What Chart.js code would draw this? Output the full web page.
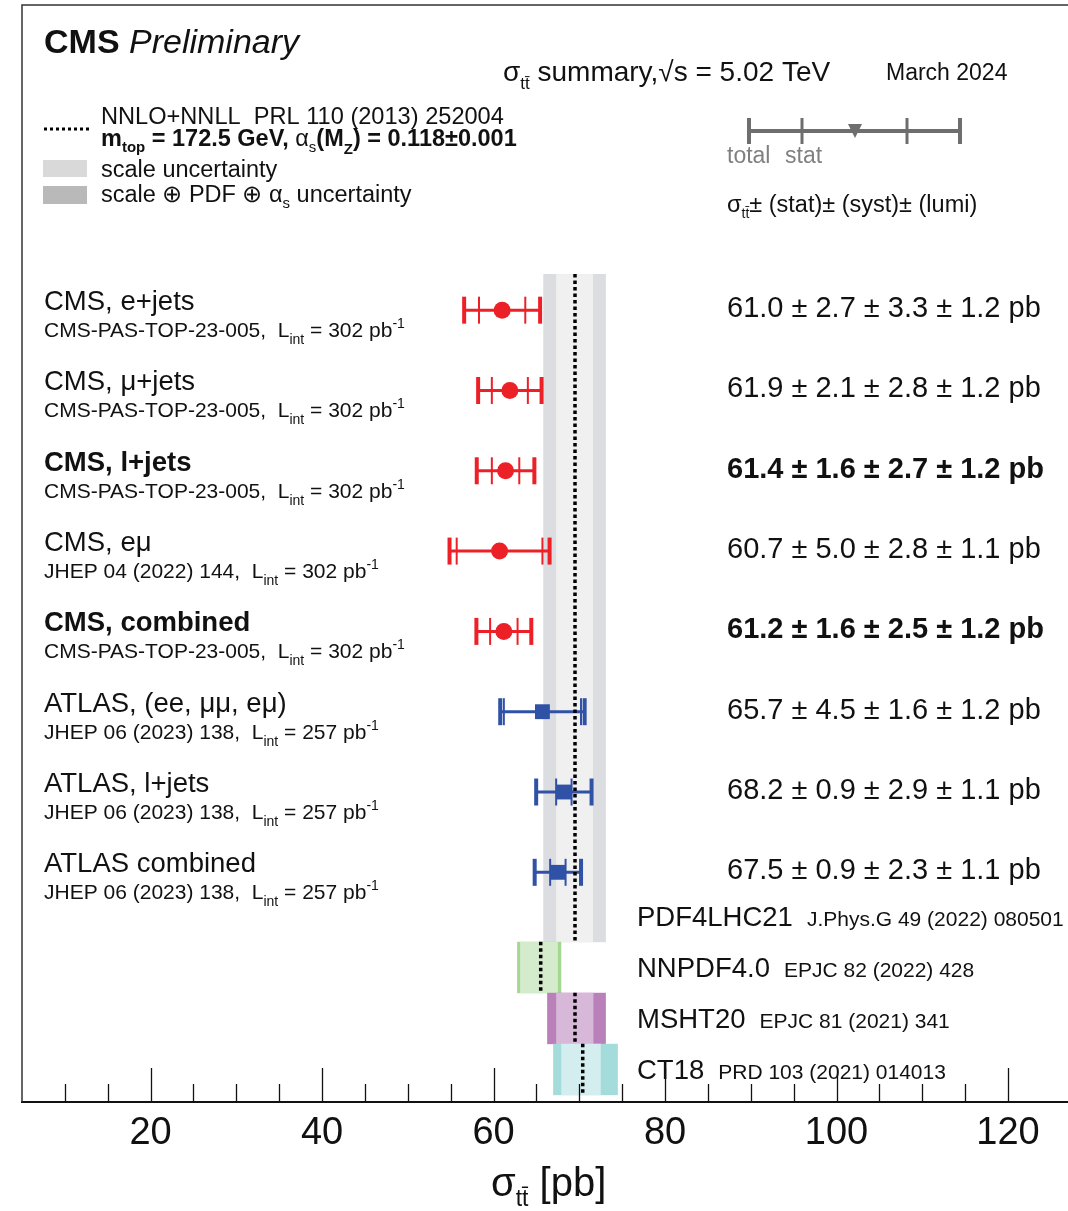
<!DOCTYPE html>
<html>
<head>
<meta charset="utf-8">
<script src="https://cdn.jsdelivr.net/npm/chart.js@4.4.1/dist/chart.umd.min.js"></script>
<style>
  html, body { margin: 0; padding: 0; background: #fff; }
</style>
</head>
<body>
<canvas id="sigmaChart" width="1068" height="1211"></canvas>
<script>
// measurements (pb)
const names = ['CMS, e+jets', 'CMS, μ+jets', 'CMS, l+jets', 'CMS, eμ', 'CMS, combined',
  'ATLAS, (ee, μμ, eμ)', 'ATLAS, l+jets', 'ATLAS combined'];
const experiments = ['CMS', 'CMS', 'CMS', 'CMS', 'CMS', 'ATLAS', 'ATLAS', 'ATLAS'];
const refs = ['CMS-PAS-TOP-23-005,', 'CMS-PAS-TOP-23-005,', 'CMS-PAS-TOP-23-005,', 'JHEP 04 (2022) 144,',
  'CMS-PAS-TOP-23-005,', 'JHEP 06 (2023) 138,', 'JHEP 06 (2023) 138,', 'JHEP 06 (2023) 138,'];
const lumis = ['302', '302', '302', '302', '302', '257', '257', '257'];
const xsec = [61.0, 61.9, 61.4, 60.7, 61.2, 65.7, 68.2, 67.5];
const stat = [2.7, 2.1, 1.6, 5.0, 1.6, 4.5, 0.9, 0.9];
const syst = [3.3, 2.8, 2.7, 2.8, 2.5, 1.6, 2.9, 2.3];
const lumiUnc = [1.2, 1.2, 1.2, 1.1, 1.2, 1.2, 1.1, 1.1];
const boldRows = [false, false, true, false, true, false, false, false];

// NNLO+NNLL predictions with different PDF sets
const theoryNames = ['PDF4LHC21', 'NNPDF4.0', 'MSHT20', 'CT18'];
const theoryRefs = ['J.Phys.G 49 (2022) 080501', 'EPJC 82 (2022) 428', 'EPJC 81 (2021) 341', 'PRD 103 (2021) 014013'];
const theoryXsec = [69.5, 65.5, 69.5, 70.4];
const theoryScaleDn = [2.2, 2.4, 2.2, 2.5];
const theoryScaleUp = [2.1, 2.0, 2.15, 2.1];
const theoryTotDn = [3.7, 2.75, 3.25, 3.45];
const theoryTotUp = [3.6, 2.4, 3.6, 4.1];

const xTickLabels = [20, 40, 60, 80, 100, 120];

// styling
const FONT = '"Liberation Sans", Arial, Helvetica, sans-serif';
const f = (size, style) => (style ? style + ' ' : '') + size + 'px ' + FONT;
const cmsColor = 'rgb(236,32,39)';
const atlasColor = 'rgb(47,81,166)';
const bandOuter = ['rgb(220,221,224)', 'rgb(166,215,146)', 'rgb(186,128,186)', 'rgb(164,220,220)'];
const bandInner = ['rgb(240,240,240)', 'rgb(212,235,204)', 'rgb(216,184,216)', 'rgb(212,238,240)'];
const theoryRow = k => 7.55 + 0.635 * k;
const theoryHalf = 0.32;
const bandTop = -0.45;

function runs(ctx, x, y, parts, align) {
  if (align === 'center') {
    let w = 0;
    parts.forEach(p => { ctx.font = p[1]; w += ctx.measureText(p[0]).width; });
    x -= w / 2;
  }
  parts.forEach(p => {
    ctx.font = p[1];
    ctx.fillText(p[0], x, y + (p[2] || 0));
    x += ctx.measureText(p[0]).width;
  });
  return x;
}

function seg(ctx, x1, y1, x2, y2) {
  ctx.beginPath();
  ctx.moveTo(x1, y1);
  ctx.lineTo(x2, y2);
  ctx.stroke();
}

const sigmaPlugin = {
  id: 'sigmaSummary',
  beforeDatasetsDraw(chart) {
    const { ctx, scales: { x, y } } = chart;
    ctx.save();
    // theory bands
    theoryNames.forEach((n, k) => {
      const yc = theoryRow(k);
      const top = y.getPixelForValue(k === 0 ? bandTop : yc - theoryHalf);
      const bot = y.getPixelForValue(yc + theoryHalf);
      const c = theoryXsec[k];
      const fill = (lo, hi, col) => {
        const a = x.getPixelForValue(lo), b = x.getPixelForValue(hi);
        ctx.fillStyle = col;
        ctx.fillRect(a, top, b - a, bot - top);
      };
      fill(c - theoryTotDn[k], c + theoryTotUp[k], bandOuter[k]);
      fill(c - theoryScaleDn[k], c + theoryScaleUp[k], bandInner[k]);
    });
    // error bars: total and stat
    xsec.forEach((c, i) => {
      const tot = Math.sqrt(stat[i] ** 2 + syst[i] ** 2 + lumiUnc[i] ** 2);
      const py = y.getPixelForValue(i);
      ctx.strokeStyle = experiments[i] === 'CMS' ? cmsColor : atlasColor;
      ctx.lineWidth = 3;
      seg(ctx, x.getPixelForValue(c - tot), py, x.getPixelForValue(c + tot), py);
      ctx.lineWidth = 4;
      [c - tot, c + tot].forEach(v => { const px = x.getPixelForValue(v); seg(ctx, px, py - 13.5, px, py + 13.5); });
      ctx.lineWidth = 2;
      [c - stat[i], c + stat[i]].forEach(v => { const px = x.getPixelForValue(v); seg(ctx, px, py - 13.5, px, py + 13.5); });
    });
    ctx.restore();
  },
  afterDraw(chart) {
    const { ctx, chartArea: area, scales: { x, y } } = chart;
    ctx.save();
    ctx.textBaseline = 'alphabetic';
    ctx.fillStyle = '#111';

    // frame
    ctx.strokeStyle = '#333';
    ctx.lineWidth = 1.5;
    ctx.beginPath();
    ctx.moveTo(area.left, area.bottom);
    ctx.lineTo(area.left, area.top);
    ctx.lineTo(area.right, area.top);
    ctx.stroke();

    // inward ticks
    ctx.strokeStyle = '#111';
    ctx.lineWidth = 1.3;
    x.ticks.forEach(t => {
      if (t.value <= x.min || t.value >= x.max || t.value % 5 !== 0) return;
      const px = Math.round(x.getPixelForValue(t.value)) + 0.5;
      const len = xTickLabels.includes(t.value) ? 34 : 18;
      seg(ctx, px, area.bottom, px, area.bottom - len);
    });

    // axis title
    runs(ctx, 491, 1196, [['σ', f(40)], ['tt\u0304', f(23), 10], [' [pb]', f(40)]]);

    // header
    runs(ctx, 44, 53, [['CMS', f(34, 'bold')], [' Preliminary', f(34, 'italic')]]);
    runs(ctx, 503, 81, [['σ', f(28)], ['tt\u0304', f(17), 8], [' summary,', f(28)], ['√s = 5.02 TeV', f(28)]]);
    runs(ctx, 886, 80, [['March 2024', f(23)]]);

    // theory legend
    ctx.strokeStyle = '#000';
    ctx.lineWidth = 3;
    ctx.setLineDash([3, 3]);
    seg(ctx, 44, 129, 90, 129);
    ctx.setLineDash([]);
    runs(ctx, 101, 124, [['NNLO+NNLL  PRL 110 (2013) 252004', f(23.6)]]);
    runs(ctx, 101, 146, [['m', f(23.5, 'bold')], ['top', f(15, 'bold'), 6], [' = 172.5 GeV, ', f(23.5, 'bold')],
      ['α', f(23.5)], ['s', f(15), 6], ['(M', f(23.5, 'bold')], ['Z', f(15, 'bold'), 8], [') = 0.118±0.001', f(23.5, 'bold')]]);
    ctx.fillStyle = '#d9d9d9';
    ctx.fillRect(43, 160, 44, 17);
    ctx.fillStyle = '#b9b9b9';
    ctx.fillRect(43, 186, 44, 18);
    ctx.fillStyle = '#111';
    runs(ctx, 101, 177, [['scale uncertainty', f(23.5)]]);
    runs(ctx, 101, 202, [['scale ⊕ PDF ⊕ ', f(23.5)], ['α', f(23.5)], ['s', f(15), 6], [' uncertainty', f(23.5)]]);

    // error bar key
    ctx.strokeStyle = '#6e6e6e';
    ctx.fillStyle = '#6e6e6e';
    ctx.lineWidth = 4;
    seg(ctx, 749, 131, 960, 131);
    seg(ctx, 749, 118, 749, 144);
    seg(ctx, 960, 118, 960, 144);
    ctx.lineWidth = 3;
    seg(ctx, 802, 118, 802, 144);
    seg(ctx, 907, 118, 907, 144);
    ctx.beginPath();
    ctx.moveTo(848, 124);
    ctx.lineTo(862, 124);
    ctx.lineTo(855, 138);
    ctx.closePath();
    ctx.fill();
    ctx.fillStyle = '#808080';
    runs(ctx, 727, 163, [['total', f(23)]]);
    runs(ctx, 785, 163, [['stat', f(23)]]);
    ctx.fillStyle = '#111';
    runs(ctx, 727, 212, [['σ', f(23.5)], ['tt\u0304', f(14), 6], ['± (stat)± (syst)± (lumi)', f(23.5)]]);

    // measurement labels and values
    names.forEach((n, i) => {
      const py = y.getPixelForValue(i);
      const w = boldRows[i] ? 'bold' : '';
      runs(ctx, 44, py, [[n, f(27.5, w)]]);
      runs(ctx, 44, py + 27, [[refs[i] + '  L', f(21)], ['int', f(14), 7], [' = ' + lumis[i] + ' pb', f(21)], ['-1', f(14), -9]]);
      const txt = xsec[i].toFixed(1) + ' ± ' + stat[i].toFixed(1) + ' ± ' + syst[i].toFixed(1) + ' ± ' + lumiUnc[i].toFixed(1) + ' pb';
      runs(ctx, 727, py + 7, [[txt, f(29, w)]]);
    });

    // theory labels
    theoryNames.forEach((n, k) => {
      const py = y.getPixelForValue(theoryRow(k));
      const end = runs(ctx, 637, py + 10, [[n, f(27.5)]]);
      runs(ctx, end + 14, py + 10, [[theoryRefs[k], f(21)]]);
    });
    ctx.restore();
  }
};

const cmsPoints = [], atlasPoints = [];
xsec.forEach((c, i) => (experiments[i] === 'CMS' ? cmsPoints : atlasPoints).push({ x: c, y: i }));

const theoryLines = theoryXsec.map((c, k) => ({
  type: 'line',
  data: [{ x: c, y: k === 0 ? bandTop : theoryRow(k) - theoryHalf }, { x: c, y: theoryRow(k) + theoryHalf }],
  borderColor: '#000',
  borderWidth: 3.5,
  borderDash: [3.5, 3],
  pointRadius: 0,
  showLine: true,
  order: 5
}));

const ctx = document.getElementById('sigmaChart').getContext('2d');
new Chart(ctx, {
  type: 'scatter',
  data: {
    datasets: [
      ...theoryLines,
      { label: 'CMS', data: cmsPoints, pointStyle: 'circle', pointRadius: 8.5, backgroundColor: cmsColor, borderWidth: 0, order: 1 },
      { label: 'ATLAS', data: atlasPoints, pointStyle: 'rect', pointRadius: 10.5, backgroundColor: atlasColor, borderWidth: 0, order: 1 }
    ]
  },
  options: {
    responsive: false,
    animation: false,
    events: [],
    layout: { autoPadding: false, padding: { left: 22, top: 5, right: 0, bottom: 0 } },
    plugins: { legend: { display: false }, tooltip: { enabled: false } },
    scales: {
      x: {
        type: 'linear',
        min: 5,
        max: 127,
        grid: { display: false, drawTicks: false },
        border: { display: true, color: '#111', width: 2 },
        ticks: {
          stepSize: 5,
          autoSkip: false,
          maxRotation: 0,
          minRotation: 0,
          padding: 9,
          color: '#111',
          font: { family: FONT, size: 38 },
          callback: v => (xTickLabels.includes(v) ? String(v) : '')
        },
        afterFit: s => { s.height = 109; s.paddingLeft = 0; s.paddingRight = 0; }
      },
      y: {
        type: 'linear',
        min: -3.8,
        max: 9.86,
        reverse: true,
        display: false
      }
    }
  },
  plugins: [sigmaPlugin]
});
</script>
</body>
</html>
